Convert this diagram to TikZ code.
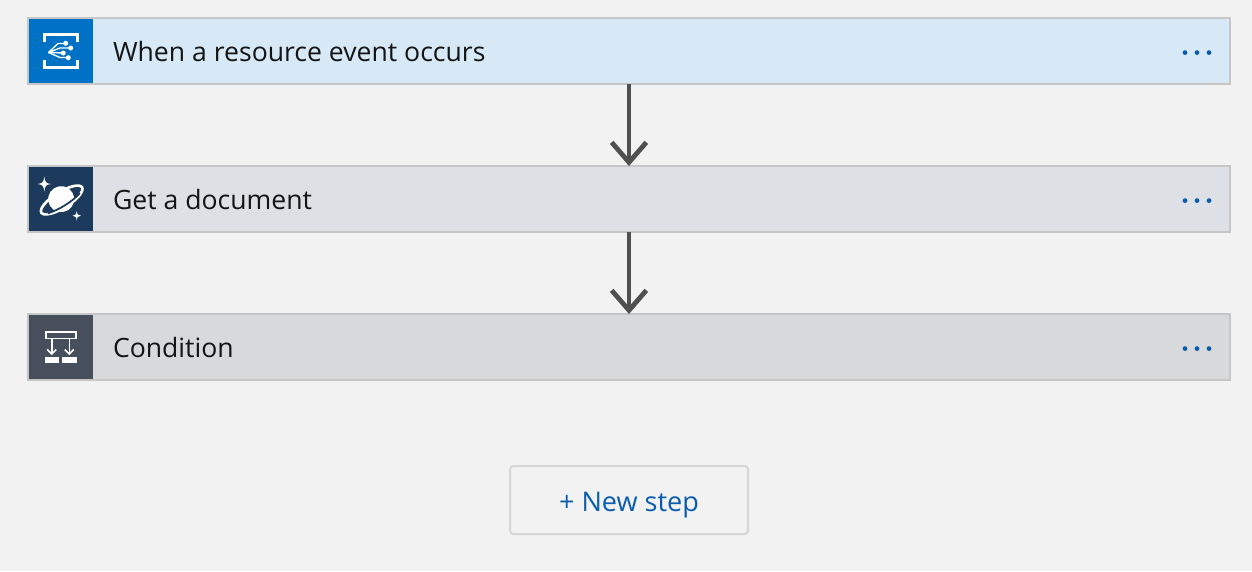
\documentclass[tikz,border=0pt]{standalone}
\usepackage{fontspec}
\setmainfont{Open Sans}
\usepackage{xcolor}
\usetikzlibrary{positioning,arrows.meta}

\definecolor{pagebg}{HTML}{F2F2F2}
\definecolor{stepline}{HTML}{C6C6C6}
\definecolor{triggerbg}{HTML}{D7E9F6}
\definecolor{cosmosbg}{HTML}{DDE1E5}
\definecolor{condbg}{HTML}{D8D9DA}
\definecolor{triggericon}{HTML}{0072C6}
\definecolor{cosmosicon}{HTML}{1B3A5C}
\definecolor{condicon}{HTML}{474F5C}
\definecolor{linkblue}{HTML}{0A5CAD}
\definecolor{flowline}{HTML}{505050}

\newcommand{\stepdots}[1]{%
	\foreach \dx in {45,33,21}
		\fill[linkblue] ([xshift=-\dx*.75pt,yshift=-1.2pt]#1.east) circle (2.4*.75pt);
}

\begin{document}
\begin{tikzpicture}[x=.75pt,y=-.75pt,
		stepbox/.style={draw=stepline,line width=1.5pt,outer sep=0pt,inner sep=0pt,
			minimum width=1202*.75pt,minimum height=66*.75pt},
		iconbox/.style={inner sep=0pt,outer sep=0pt,minimum width=64*.75pt,minimum height=64*.75pt},
		steplabel/.style={inner sep=0pt,outer sep=0pt,font=\fontsize{19.95pt}{22pt}\selectfont,
			text height=20.2pt,text depth=4.5pt,text=black!92},
		flow/.style={draw=flowline,line width=3.4pt,
			-{Straight Barb[length=15pt,width=26pt,line width=3.6pt]}},
		glyph/.style={draw=white,line width=1.6pt},
	]
	\fill[pagebg] (0,0) rectangle (1252,571);
	\useasboundingbox (0,0) rectangle (1252,571);

	% the three steps
	\node[stepbox,fill=triggerbg] (trigger) at (629,51) {};
	\node[stepbox,fill=cosmosbg] (cosmos) at (629,199) {};
	\node[stepbox,fill=condbg] (cond) at (629,347) {};
	\node[iconbox,fill=triggericon,anchor=west] (triggerbox) at ([xshift=.75pt]trigger.west) {};
	\node[iconbox,fill=cosmosicon,anchor=west] (cosmosbox) at ([xshift=.75pt]cosmos.west) {};
	\node[iconbox,fill=condicon,anchor=west] (condbox) at ([xshift=.75pt]cond.west) {};
	\node[steplabel,anchor=west,right=15pt of triggerbox] (triggertext) {When a resource event occurs};
	\node[steplabel,anchor=west,right=15pt of cosmosbox] (cosmostext) {Get a document};
	\node[steplabel,anchor=west,right=15pt of condbox] (condtext) {Condition};
	\stepdots{trigger}
	\stepdots{cosmos}
	\stepdots{cond}

	% arrows
	\draw[flow] (trigger) -- (cosmos);
	\draw[flow] (cosmos) -- (cond);

	% event grid icon
	\draw[glyph,line width=2.7pt] (44.5,42) -- (44.5,34.5) -- (77.5,34.5) -- (77.5,42);
	\draw[glyph,line width=2.7pt] (44.5,60) -- (44.5,67.5) -- (77.5,67.5) -- (77.5,60);
	\draw[glyph,line width=1pt] (48.5,52.5) -- (58,43.5) -- (65.5,43.5);
	\draw[glyph,line width=1pt] (48.5,52.5) -- (60,48) -- (70.5,48);
	\draw[glyph,line width=1pt] (48.5,52.5) -- (63,53);
	\draw[glyph,line width=1pt] (48.5,52.5) -- (60,57.5) -- (68.5,57.5);
	\foreach \gx/\gy in {65.7/43.3,70.7/48,63.3/53,68.3/57.7}
		\fill[white] (\gx,\gy) circle (2.5);

	% planet icon
	\begin{scope}[shift={(61.7,200)},rotate=32]
		\draw[white,line width=2pt] (0,0) ellipse (24 and 8);
		\fill[white] (0,-1) circle (13);
		\draw[cosmosicon,line width=1.3pt] (-19,3.9) .. controls (-8,7) and (8,7) .. (19,3.9);
	\end{scope}
	\fill[white] (44.3,176.5) .. controls (44.8,182) and (46,183.5) .. (51,184)
		.. controls (46,184.5) and (44.8,186) .. (44.3,191.5)
		.. controls (43.8,186) and (42.6,184.5) .. (37.5,184)
		.. controls (42.6,183.5) and (43.8,182) .. (44.3,176.5) -- cycle;
	\fill[white] (76.7,211) .. controls (77,214.5) and (78,215.4) .. (81,215.7)
		.. controls (78,216) and (77,217) .. (76.7,220.5)
		.. controls (76.4,217) and (75.4,216) .. (72.5,215.7)
		.. controls (75.4,215.4) and (76.4,214.5) .. (76.7,211) -- cycle;

	% condition icon
	\draw[glyph,line width=1.3pt] (46,332) rectangle (76.2,338.5);
	\foreach \gx in {51.7,69.3}{
		\draw[white,line width=1.2pt] (\gx,338.5) -- (\gx,354);
		\draw[white,line width=1.2pt] (\gx-4.5,349.5) -- (\gx,354) -- (\gx+4.5,349.5);
	}
	\fill[white] (45,356.7) rectangle (59.3,362.7);
	\fill[white] (62.3,356.7) rectangle (77,362.7);

	% button
	\node[draw=black!16,line width=1.5pt,rounded corners=2.5pt,inner sep=0pt,outer sep=0pt,
		minimum width=238*.75pt,minimum height=68*.75pt,
		font=\fontsize{20.3pt}{22pt}\selectfont,text=linkblue,text height=21pt,text depth=4.5pt] (newstep) at (629,500) {+ New step};
\end{tikzpicture}
\end{document}
